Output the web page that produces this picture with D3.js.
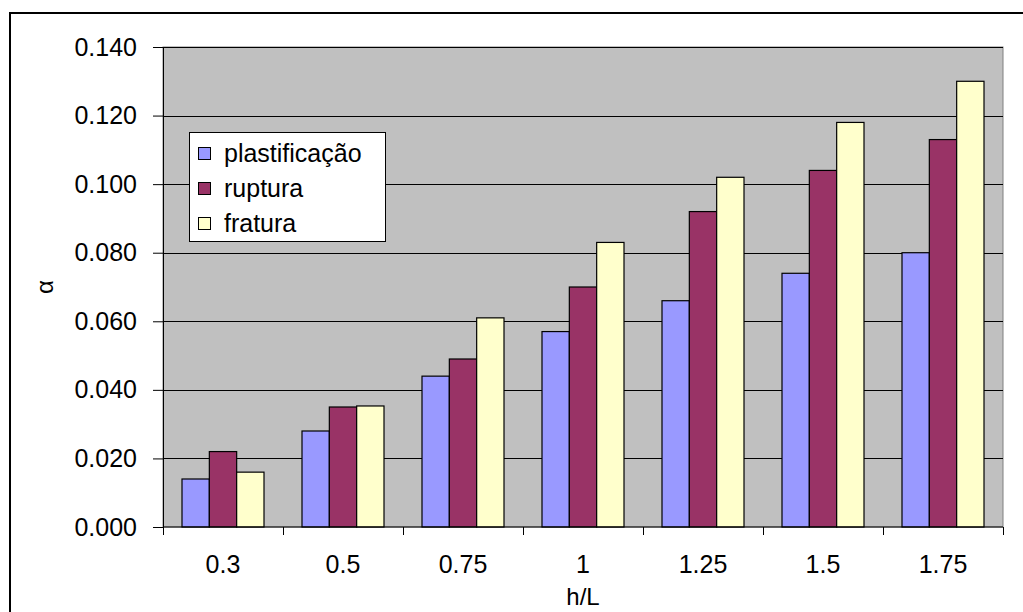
<!DOCTYPE html>
<html>
<head>
<meta charset="utf-8">
<script src="https://cdn.jsdelivr.net/npm/d3@7"></script>
<style>
  html, body { margin: 0; padding: 0; background: #fff; }
  svg { display: block; font-family: "Liberation Sans", Arial, sans-serif; }
</style>
</head>
<body>
<svg id="chart" width="1023" height="612"></svg>
<script>
// h/L ratios on the category axis
const categories = ["0.3", "0.5", "0.75", "1", "1.25", "1.5", "1.75"];
const seriesNames = ["plastificação", "ruptura", "fratura"];
const plastificacao = [0.014, 0.028, 0.044, 0.057, 0.066, 0.074, 0.080];
const ruptura       = [0.022, 0.035, 0.049, 0.070, 0.092, 0.104, 0.113];
const fratura       = [0.016, 0.0353, 0.061, 0.083, 0.102, 0.118, 0.130];
const yTicks = [0, 0.02, 0.04, 0.06, 0.08, 0.10, 0.12, 0.14];
const colors = ["#9999FF", "#993366", "#FFFFCC"];

const seriesValues = [plastificacao, ruptura, fratura];
const rows = categories.map((c, i) => ({
  cat: c,
  vals: seriesValues.map((s, k) => ({ key: seriesNames[k], k, v: s[i] }))
}));

const svg = d3.select("#chart");
const plot = { left: 163, top: 47, right: 1003, bottom: 527 };

// outer chart frame
svg.append("rect")
  .attr("x", 10).attr("y", 13).attr("width", 1030).attr("height", 620)
  .attr("fill", "#fff").attr("stroke", "#000").attr("stroke-width", 2);

const x = d3.scaleBand().domain(categories).range([plot.left, plot.right]).padding(0);
const groupWidth = x.bandwidth() * 82 / 120;
const xInner = d3.scaleBand().domain(seriesNames)
  .range([(x.bandwidth() - groupWidth) / 2, (x.bandwidth() + groupWidth) / 2]).padding(0);
const y = d3.scaleLinear().domain([0, 0.14]).range([plot.bottom, plot.top]);

// plot area background
svg.append("rect")
  .attr("x", plot.left).attr("y", plot.top)
  .attr("width", plot.right - plot.left).attr("height", plot.bottom - plot.top)
  .attr("fill", "#C0C0C0").attr("stroke", "#808080").attr("stroke-width", 1);

// horizontal gridlines
svg.append("g").selectAll("line")
  .data(yTicks.filter(t => t > 0))
  .join("line")
  .attr("x1", plot.left).attr("x2", plot.right)
  .attr("y1", d => Math.round(y(d)) + 0.5).attr("y2", d => Math.round(y(d)) + 0.5)
  .attr("stroke", "#000").attr("stroke-width", 1);

// bars
const groups = svg.append("g").selectAll("g")
  .data(rows).join("g")
  .attr("transform", d => `translate(${x(d.cat)},0)`);
groups.selectAll("rect")
  .data(d => d.vals).join("rect")
  .attr("x", d => xInner(d.key))
  .attr("y", d => y(d.v))
  .attr("width", xInner.bandwidth())
  .attr("height", d => y(0) - y(d.v))
  .attr("fill", d => colors[d.k])
  .attr("stroke", "#000").attr("stroke-width", 1.2);

// y axis
const yAxis = d3.axisLeft(y).tickValues(yTicks).tickFormat(d3.format(".3f"))
  .tickSize(10).tickPadding(16);
const gy = svg.append("g").attr("transform", `translate(${plot.left},0)`).call(yAxis);
gy.select(".domain").attr("stroke", "#000");
gy.selectAll(".tick line").attr("stroke", "#000");
gy.selectAll(".tick text").attr("font-size", 25).attr("fill", "#000")
  .attr("font-family", "Liberation Sans, Arial, sans-serif");

// x axis: ticks on category boundaries
const gx = svg.append("g").attr("transform", `translate(0,${plot.bottom})`);
gx.append("line").attr("x1", plot.left).attr("x2", plot.right)
  .attr("y1", 0).attr("y2", 0).attr("stroke", "#000");
const bounds = categories.map(c => x(c)).concat([x(categories[categories.length - 1]) + x.bandwidth()]);
gx.selectAll("line.tk").data(bounds).join("line").attr("class", "tk")
  .attr("x1", d => Math.round(d) + 0.5).attr("x2", d => Math.round(d) + 0.5)
  .attr("y1", 0).attr("y2", 8).attr("stroke", "#000");
gx.selectAll("text").data(categories).join("text")
  .attr("x", d => x(d) + x.bandwidth() / 2)
  .attr("y", 46)
  .attr("text-anchor", "middle")
  .attr("font-size", 25).attr("fill", "#000")
  .text(d => d);

// axis titles
svg.append("text")
  .attr("x", 583).attr("y", 605)
  .attr("text-anchor", "middle").attr("font-size", 24)
  .text("h/L");
svg.append("text")
  .attr("transform", "translate(53,287) rotate(-90)")
  .attr("text-anchor", "middle").attr("font-size", 24)
  .text("α");

// legend
const legend = svg.append("g").attr("transform", "translate(189,132)");
legend.append("rect")
  .attr("x", 0.5).attr("y", 0.5).attr("width", 196).attr("height", 109)
  .attr("fill", "#fff").attr("stroke", "#000").attr("stroke-width", 1);
const items = legend.selectAll("g.item").data(seriesNames).join("g").attr("class", "item")
  .attr("transform", (d, i) => `translate(0,${21 + i * 35})`);
items.append("rect")
  .attr("x", 9.5).attr("y", -5.5).attr("width", 12).attr("height", 12)
  .attr("fill", (d, i) => colors[i]).attr("stroke", "#000").attr("stroke-width", 1);
items.append("text")
  .attr("x", 35).attr("y", 9)
  .attr("font-size", 25).attr("fill", "#000")
  .text(d => d);
</script>
</body>
</html>
